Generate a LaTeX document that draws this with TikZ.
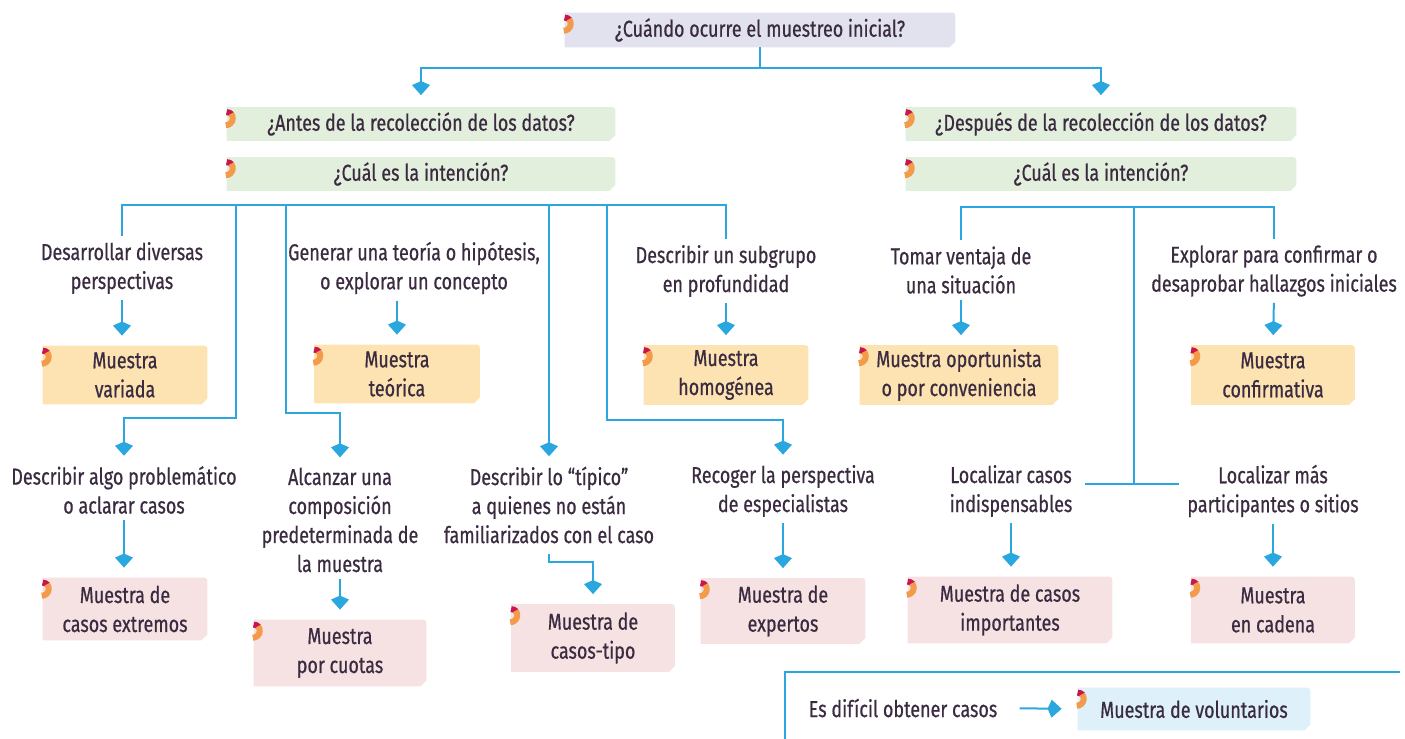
\documentclass[tikz,border=0pt]{standalone}
\usepackage{fontspec}
\setmainfont{Fira Sans}[FakeStretch=0.78,FakeBold=0.6]
\usetikzlibrary{arrows.meta,calc,backgrounds}

\definecolor{inktext}{HTML}{3A2B40}
\definecolor{linkblue}{HTML}{2AA7DF}
\definecolor{qlav}{HTML}{E2E2EE}
\definecolor{qgreen}{HTML}{E3EFDD}
\definecolor{qorange}{HTML}{FDE3B1}
\definecolor{qpink}{HTML}{F6E2E2}
\definecolor{qblue}{HTML}{DEF1FB}
\definecolor{tagred}{HTML}{C8174F}
\definecolor{tagorange}{HTML}{F39B4B}

\tikzset{
  lbl/.style={align=center, text=inktext, inner sep=0pt,
    font=\fontsize{11.5}{14.5}\selectfont},
  link/.style={draw=linkblue, line width=1pt},
  arr/.style={link, -{Kite[length=7pt,width=9pt,inset=2pt]},
    shorten <=3pt, shorten >=5pt},
}

% box fill with the small tag on its left edge
\newcommand\tagfill[2]{%
  \begin{scope}[on background layer]
    \fill[#2] (#1.south west) -- (#1.north west) -- ($(#1.north east)+(-7,0)$)
      .. controls (#1.north east) .. ($(#1.north east)+(0,7)$)
      -- ($(#1.south east)+(0,-6)$) -- ($(#1.south east)+(-6,0)$) -- cycle;
    \draw[tagred, line width=3pt] ($(#1.north west)+(0,5)$)
      arc[start angle=-90, end angle=-40, radius=7];
    \draw[tagorange, line width=3pt] ($(#1.north west)+(0,5)$)
      ++(4.5,1.64) arc[start angle=-40, end angle=90, radius=7];
  \end{scope}}

\begin{document}
\begin{tikzpicture}[x=0.5pt,y=-0.5pt]
  \useasboundingbox (0,0) rectangle (1405,739);

  % questions
  \node[lbl, minimum width=195pt, minimum height=17pt] (qInicial) at (760,30) {¿Cuándo ocurre el muestreo inicial?};
  \node[lbl, minimum width=194pt, minimum height=16.5pt] (qAntes) at (421,124) {¿Antes de la recolección de los datos?};
  \node[lbl, minimum width=194pt, minimum height=16.5pt] (qAntInt) at (421,174) {¿Cuál es la intención?};
  \node[lbl, minimum width=195pt, minimum height=16.5pt] (qDespues) at (1101,124) {¿Después de la recolección de los datos?};
  \node[lbl, minimum width=195pt, minimum height=16.5pt] (qDespInt) at (1101,174) {¿Cuál es la intención?};
  \tagfill{qInicial}{qlav}
  \tagfill{qAntes}{qgreen}
  \tagfill{qAntInt}{qgreen}
  \tagfill{qDespues}{qgreen}
  \tagfill{qDespInt}{qgreen}

  % intentions
  \node[lbl] (tDiversas) at (122,268) {Desarrollar diversas\\perspectivas};
  \node[lbl] (tTeoria) at (414,268) {Generar una teoría o hipótesis,\\o explorar un concepto};
  \node[lbl] (tSubgrupo) at (726,271) {Describir un subgrupo\\en profundidad};
  \node[lbl] (tProblem) at (124,490) {Describir algo problemático\\o aclarar casos};
  \node[lbl] (tCompos) at (340,520) {Alcanzar una\\composición\\predeterminada de\\la muestra};
  \node[lbl] (tTipico) at (549,505) {Describir lo “típico”\\a quienes no están\\familiarizados con el caso};
  \node[lbl] (tEspec) at (783,491) {Recoger la perspectiva\\de especialistas};
  \node[lbl] (tVentaja) at (961,270) {Tomar ventaja de\\una situación};
  \node[lbl] (tExplorar) at (1274,271) {Explorar para confirmar o\\desaprobar hallazgos iniciales};
  \node[lbl] (tIndisp) at (1011,491) {Localizar casos\\indispensables};
  \node[lbl] (tMas) at (1273,491) {Localizar más\\participantes o sitios};
  \node[lbl] (tDificil) at (903,708) {Es difícil obtener casos};

  % samples
  \node[lbl, minimum width=82pt, minimum height=29pt] (mVariada) at (125,375) {Muestra\\variada};
  \node[lbl, minimum width=82.5pt, minimum height=29pt] (mTeorica) at (397,374) {Muestra\\teórica};
  \node[lbl, minimum width=82pt, minimum height=29.5pt] (mHomog) at (726,375) {Muestra\\homogénea};
  \node[lbl, minimum width=99pt, minimum height=29.5pt] (mOport) at (959,375) {Muestra oportunista\\o por conveniencia};
  \node[lbl, minimum width=81.5pt, minimum height=29.5pt] (mConf) at (1273,375) {Muestra\\confirmativa};
  \node[lbl, minimum width=82pt, minimum height=31pt] (mExtrem) at (125,609) {Muestra de\\casos extremos};
  \node[lbl, minimum width=86pt, minimum height=33pt] (mCuotas) at (340,653) {Muestra\\por cuotas};
  \node[lbl, minimum width=81.5pt, minimum height=33.5pt] (mTipo) at (593,638) {Muestra de\\casos-tipo};
  \node[lbl, minimum width=82pt, minimum height=32.5pt] (mExpert) at (783,611) {Muestra de\\expertos};
  \node[lbl, minimum width=102pt, minimum height=33pt] (mImport) at (1010,610) {Muestra de casos\\importantes};
  \node[lbl, minimum width=81.5pt, minimum height=33pt] (mCadena) at (1273,610) {Muestra\\en cadena};
  \node[lbl, minimum width=116pt, minimum height=21pt] (mVolunt) at (1194,709) {Muestra de voluntarios};
  \tagfill{mVariada}{qorange}
  \tagfill{mTeorica}{qorange}
  \tagfill{mHomog}{qorange}
  \tagfill{mOport}{qorange}
  \tagfill{mConf}{qorange}
  \tagfill{mExtrem}{qpink}
  \tagfill{mCuotas}{qpink}
  \tagfill{mTipo}{qpink}
  \tagfill{mExpert}{qpink}
  \tagfill{mImport}{qpink}
  \tagfill{mCadena}{qpink}
  \tagfill{mVolunt}{qblue}

  % top split
  \coordinate (busTop) at (760,68);
  \draw[link] (qInicial.south) -- (busTop);
  \draw[arr, shorten <=0pt, shorten >=6pt] (busTop) -| (qAntes.north);
  \draw[arr, shorten <=0pt, shorten >=6pt] (busTop) -| (qDespues.north);

  % left branch
  \coordinate (busL) at (424,205);
  \coordinate (elbowA) at (236,418);
  \coordinate (elbowB) at (286,413);
  \coordinate (elbowC) at (607,420);
  \draw[link, shorten <=3pt, shorten >=3pt] (tDiversas.north) |- (busL) -| (tSubgrupo.north);
  \draw[arr, shorten <=0pt] (elbowA |- busL) -- (elbowA) -| (tProblem.north);
  \draw[arr, shorten <=0pt] (elbowB |- busL) -- (elbowB) -| (tCompos.north);
  \draw[arr, shorten <=0pt] (tTipico.north |- busL) -- (tTipico.north);
  \draw[arr, shorten <=0pt] (elbowC |- busL) -- (elbowC) -| (tEspec.north);
  \draw[arr] (tDiversas.south) -- (mVariada.north -| tDiversas.south);
  \draw[arr] (mTeorica.north |- tTeoria.south) -- (mTeorica.north);
  \draw[arr] (tSubgrupo.south) -- (mHomog.north);
  \draw[arr] (tProblem.south) -- (mExtrem.north -| tProblem.south);
  \draw[arr] (tCompos.south) -- (mCuotas.north);
  \draw[arr, shorten <=5pt] (tTipico.south) -- ++(0,18) -| (mTipo.north);
  \draw[arr] (tEspec.south) -- (mExpert.north);

  % right branch
  \coordinate (busR) at (1134,207);
  \coordinate (tee) at (1134,484);
  \draw[link, shorten <=3pt, shorten >=3pt] (tVentaja.north) |- (busR) -| (tExplorar.north);
  \draw[link] (busR) -- (tee);
  \draw[link] ($(tIndisp.east |- tee)+(12,0)$) -- ($(tMas.west |- tee)+(-8,0)$);
  \draw[arr] (tVentaja.south) -- (tVentaja.south |- mOport.north);
  \draw[arr] (tExplorar.south) -- (mConf.north);
  \draw[arr] (tIndisp.south) -- (tIndisp.south |- mImport.north);
  \draw[arr] (tMas.south) -- (mCadena.north);

  % volunteers
  \draw[link] (785,739) -- (785,672) -- (1400,672);
  \draw[arr, shorten <=11pt, shorten >=8pt] (tDificil.east) -- (mVolunt.west);
\end{tikzpicture}
\end{document}
